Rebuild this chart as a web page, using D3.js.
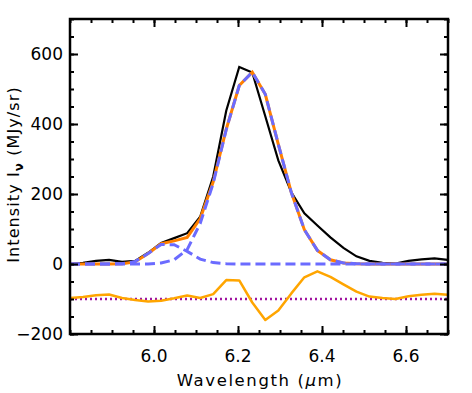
<!DOCTYPE html>
<html>
<head>
<meta charset="utf-8">
<script src="https://cdn.jsdelivr.net/npm/d3@7"></script>
<style>
  body { margin: 0; background: #fff; }
  text { font-family: "DejaVu Sans", "Liberation Sans", sans-serif; fill: #000; }
</style>
</head>
<body>
<svg id="chart" width="472" height="393"></svg>
<script>
// wavelength grid (um)
const wavelength = [5.800, 5.831, 5.862, 5.893, 5.924, 5.955, 5.986, 6.017, 6.048, 6.079,
  6.110, 6.141, 6.172, 6.203, 6.234, 6.265, 6.296, 6.327, 6.358, 6.389,
  6.420, 6.451, 6.482, 6.513, 6.544, 6.575, 6.606, 6.637, 6.668, 6.699];

// observed spectrum
const observed = [0, 3, 9, 12, 6, 9, 32, 60, 74, 88,
  135, 250, 438, 563, 547, 422, 296, 205, 145, 110,
  76, 46, 22, 9, 3, 1, 9, 13, 16, 12];

// total fit
const fitTotal = [0, 0, 0, 0, 1, 6, 30, 58, 66, 76,
  130, 235, 385, 510, 548, 485, 342, 204, 98, 39,
  12, 3, 1, 0, 0, 0, 0, 0, 0, 0];

// 6.2 um main component
const mainBand = [0, 0, 0, 0, 0, 0, 0, 3, 12, 41,
  116, 231, 384, 510, 548, 485, 342, 204, 98, 39,
  12, 3, 1, 0, 0, 0, 0, 0, 0, 0];

// 6.0 um plateau component
const plateauBand = [0, 0, 0, 0, 1, 7, 30, 56, 55, 36,
  14, 4, 1, 0, 0, 0, 0, 0, 0, 0,
  0, 0, 0, 0, 0, 0, 0, 0, 0, 0];

// residual, shifted by -100
const residual = [-97, -94, -89, -87, -97, -103, -107, -105, -98, -90,
  -97, -86, -46, -47, -110, -160, -133, -84, -38, -21,
  -37, -58, -79, -93, -97, -100, -92, -88, -85, -88];

const residualZero = -100;

const xTicks = [6.0, 6.2, 6.4, 6.6];
const yTicks = [-200, 0, 200, 400, 600];

const margin = { left: 70, right: 24, top: 19, bottom: 59 };
const width = 472, height = 393;
const svg = d3.select("#chart");

const x = d3.scaleLinear().domain([5.8, 6.7]).range([margin.left, width - margin.right]);
const y = d3.scaleLinear().domain([-200, 700]).range([height - margin.bottom, margin.top]);

const [x0, x1] = x.range();
const [y0, y1] = y.range();

svg.append("clipPath").attr("id", "plot-clip")
  .append("rect")
  .attr("x", x0).attr("y", y1)
  .attr("width", x1 - x0).attr("height", y0 - y1);

const plot = svg.append("g").attr("clip-path", "url(#plot-clip)");

const line = (values) => d3.line()
  .x((d, i) => x(wavelength[i]))
  .y(d => y(d))(values);

// dotted zero line for residuals
plot.append("path")
  .attr("d", d3.line()([[x0, y(residualZero)], [x1, y(residualZero)]]))
  .attr("fill", "none")
  .attr("stroke", "#a0159f")
  .attr("stroke-width", 2.5)
  .attr("stroke-dasharray", "2,3");

plot.append("path")
  .attr("d", line(residual))
  .attr("fill", "none")
  .attr("stroke", "#ffa500")
  .attr("stroke-width", 2.5)
  .attr("stroke-linejoin", "round");

plot.append("path")
  .attr("d", line(observed))
  .attr("fill", "none")
  .attr("stroke", "#000")
  .attr("stroke-width", 2.2);

plot.append("path")
  .attr("d", line(fitTotal))
  .attr("fill", "none")
  .attr("stroke", "#ff8000")
  .attr("stroke-width", 3);

[mainBand, plateauBand].forEach(values => {
  plot.append("path")
    .attr("d", line(values))
    .attr("fill", "none")
    .attr("stroke", "#6b6bff")
    .attr("stroke-width", 3)
    .attr("stroke-dasharray", "10,5");
});

// axes, ticks on all four sides
const axisStyle = g => {
  g.select(".domain").remove();
  g.selectAll(".tick line").attr("stroke", "#000").attr("stroke-width", 2);
};

const xMinor = d3.range(5.8, 6.7001, 0.05);
const yMinor = d3.range(-200, 700.1, 50);

const addAxis = (axisFn, scale, ticks, minor, transform) => {
  svg.append("g").attr("transform", transform)
    .call(axisFn(scale).tickValues(minor).tickSize(4).tickFormat(""))
    .call(axisStyle);
  svg.append("g").attr("transform", transform)
    .call(axisFn(scale).tickValues(ticks).tickSize(8).tickFormat(""))
    .call(axisStyle);
};

addAxis(d3.axisTop, x, xTicks, xMinor, `translate(0,${y0})`);
addAxis(d3.axisBottom, x, xTicks, xMinor, `translate(0,${y1})`);
addAxis(d3.axisRight, y, yTicks, yMinor, `translate(${x0},0)`);
addAxis(d3.axisLeft, y, yTicks, yMinor, `translate(${x1},0)`);

// tick labels
svg.append("g").selectAll("text")
  .data(xTicks)
  .join("text")
  .attr("x", d => x(d))
  .attr("y", y0 + 28)
  .attr("text-anchor", "middle")
  .attr("font-size", 17)
  .text(d3.format(".1f"));

svg.append("g").selectAll("text")
  .data(yTicks)
  .join("text")
  .attr("x", x0 - 7)
  .attr("y", d => y(d))
  .attr("dy", "0.36em")
  .attr("text-anchor", "end")
  .attr("font-size", 17)
  .text(d => d < 0 ? "\u2212" + Math.abs(d) : d);

// frame
svg.append("rect")
  .attr("x", x0).attr("y", y1)
  .attr("width", x1 - x0).attr("height", y0 - y1)
  .attr("fill", "none")
  .attr("stroke", "#000")
  .attr("stroke-width", 2.5);

// axis titles
const xTitle = svg.append("text")
  .attr("x", (x0 + x1) / 2 + 1)
  .attr("y", y0 + 52)
  .attr("text-anchor", "middle")
  .attr("font-size", 16.5)
  .attr("letter-spacing", 1.6);
xTitle.append("tspan").text("Wavelength (");
xTitle.append("tspan").attr("font-style", "italic").text("\u03bc");
xTitle.append("tspan").text("m)");

const yTitle = svg.append("text")
  .attr("transform", `translate(19,${(y0 + y1) / 2 - 2}) rotate(-90)`)
  .attr("text-anchor", "middle")
  .attr("font-size", 16)
  .attr("letter-spacing", 1.1);
yTitle.append("tspan").text("Intensity I");
yTitle.append("tspan").attr("font-size", 12).attr("font-weight", "bold").attr("dy", 4).text("\u03bd");
yTitle.append("tspan").attr("dy", -4).text(" (MJy/sr)");
</script>
</body>
</html>
